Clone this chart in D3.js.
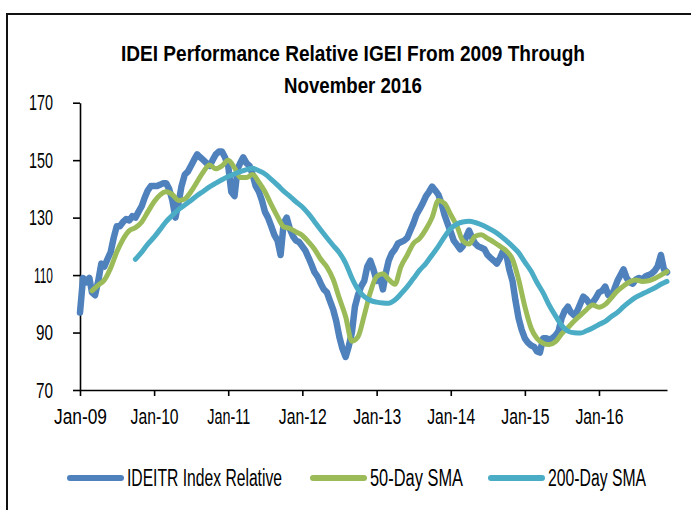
<!DOCTYPE html>
<html>
<head>
<meta charset="utf-8">
<script src="https://cdn.jsdelivr.net/npm/d3@7"></script>
<style>
  body { margin: 0; background: #fff; }
  svg text { font-family: "Liberation Sans", Arial, sans-serif; fill: #000; }
</style>
</head>
<body>
<svg id="chart"></svg>
<script>
// Title and legend text
const titleLines = ["IDEI Performance Relative IGEI From 2009 Through", "November 2016"];
const seriesNames = ["IDEITR Index Relative", "50-Day SMA", "200-Day SMA"];
const seriesColors = ["#4F81BD", "#9BBB59", "#4BACC6"];
const yTicks = [70, 90, 110, 130, 150, 170];

// IDEITR index relative, sampled on the 1st and 16th of each month from Jan 2009
const idxValues = [
  97, 109, 107.5, 109, 104, 103, 108, 114, 113, 115.5,
  118, 123, 127, 127, 128.5, 129.5, 129, 130.5, 130, 132,
  134, 137, 139.5, 141, 141, 141, 141.5, 142, 142, 140,
  136, 130, 135, 141, 145, 146, 148, 150, 152, 151,
  150, 149, 148, 150, 152, 153, 153, 151, 148, 139,
  137.5, 147, 149, 151, 149, 148, 145, 141, 139, 136,
  132, 130, 127, 124, 122, 117, 128, 130, 126, 123.5,
  122, 121.5, 120, 118.5, 116, 113.5, 111, 109.5, 107, 105,
  104, 101, 98, 94, 88.6, 84.5, 81.5, 85, 90, 99,
  103, 106, 108, 113, 115, 112, 108, 109.5, 105, 111,
  115, 117.5, 119, 121, 121.5, 122, 123, 125.5, 128, 131,
  133, 135, 137.5, 139, 140.8, 139.5, 138, 135, 131, 128,
  125, 122, 120.5, 119, 120, 123, 125.5, 123, 121, 120,
  119.5, 119, 117, 116, 115, 114, 116, 118.5, 117.5, 112,
  108, 101, 95, 91, 88, 86.5, 85.5, 85, 83.5, 83,
  88, 88, 87.5, 88, 89, 90.5, 95, 97.5, 99, 97,
  96, 97.5, 100, 102.5, 101.5, 100, 100.5, 102, 104, 104.5,
  106, 103, 102.5, 105, 108, 110, 112, 109, 107.5, 107,
  108.5, 109, 108.5, 109.5, 110, 110.5, 111.5, 113, 117, 112,
  111
];

// 50-day SMA, monthly from Mar 2009
const sma50Values = [
  104.5, 106.5, 108.3, 112.5, 118, 122.5, 125.5, 126.5, 128.5, 132,
  135.5, 138, 139, 138, 136, 136.5, 139, 142.5, 146, 148.3,
  147, 148, 150, 147.3, 144, 144, 145, 142.3, 139, 134.5,
  130.3, 126.8, 126.2, 125, 123.8, 121.5, 119, 115.5, 112.8, 108.5,
  102, 95.6, 87, 88.5, 96, 104, 109.5, 110.5, 108.5, 106.8,
  113, 117, 121, 122.8, 126, 130, 136, 135, 131, 127,
  122, 120.8, 123.5, 124, 122.8, 121.5, 120, 118.5, 115.5, 108.5,
  99, 91.5, 88, 86.3, 85.8, 86.8, 89.5, 91.7, 94, 96,
  98, 99.6, 98.8, 99.8, 102, 104.5, 106.2, 107.7, 108.3, 107.8,
  108, 108.8, 110, 111.2
];

// 200-day SMA, monthly from Oct 2009
const sma200Values = [
  115.5, 118, 120.8, 123.2, 126, 128.6, 130.8, 132.8, 134.4, 136,
  137.7, 139.2, 140.7, 142, 143.2, 144.3, 145.2, 146, 146.7, 147.2,
  146.3, 145.2, 143.3, 141.3, 139.2, 137.4, 135.5, 133.7, 131.3, 128.6,
  125.7, 123, 120.3, 117.8, 114.2, 109, 105, 102.5, 101.2, 100.6,
  100.3, 100.2, 101.3, 103.5, 106, 108.8, 111.7, 114.1, 117, 120,
  123.3, 126.2, 127.8, 128.5, 128.7, 128.3, 127.5, 126.5, 125.3, 123.8,
  122, 120, 117.8, 114.5, 111.3, 107.5, 103.8, 99.5, 95.8, 92.5,
  90.5, 89.9, 89.8, 90.6, 91.6, 92.8, 93.9, 95.5, 97, 99,
  100.8, 102.3, 103.4, 104.5, 105.5, 106.8, 107.8
];

const W = 691, H = 510;
const plot = { left: 80, right: 667, top: 102.7, bottom: 390 };

const svg = d3.select("#chart")
    .attr("width", W)
    .attr("height", H);

// chart frame (only top and left edges fall inside the picture)
svg.append("path")
    .attr("d", "M7," + H + "V14H" + W)
    .attr("fill", "none")
    .attr("stroke", "#111")
    .attr("stroke-width", 2);

const x = d3.scaleTime()
    .domain([new Date(2009, 0, 1), new Date(2016, 11, 1)])
    .range([plot.left, plot.right]);
const y = d3.scaleLinear()
    .domain([70, 170])
    .range([plot.bottom, plot.top]);

const idxData = idxValues.map((v, i) => ({ date: new Date(2009, Math.floor(i / 2), i % 2 ? 16 : 1), value: v }));
const sma50Data = sma50Values.map((v, i) => ({ date: new Date(2009, 2 + i, 1), value: v }));
const sma200Data = sma200Values.map((v, i) => ({ date: new Date(2009, 9 + i, 1), value: v }));

// the original font is very condensed, so squeeze glyphs to its widths
function narrowWidth(s, full, one) {
    return full - one * (s.split("1").length - 1);
}

// title
svg.selectAll(".title")
    .data(titleLines)
    .enter()
    .append("text")
    .attr("class", "title")
    .attr("x", 353)
    .attr("y", (d, i) => 61 + i * 32)
    .attr("text-anchor", "middle")
    .style("font-size", "22px")
    .style("font-weight", "bold")
    .attr("textLength", (d, i) => i === 0 ? 464 : 138)
    .attr("lengthAdjust", "spacingAndGlyphs")
    .text(d => d);

// axes
const yAxis = d3.axisLeft(y)
    .tickValues(yTicks)
    .tickSize(7)
    .tickSizeOuter(0)
    .tickPadding(20);
const xAxis = d3.axisBottom(x)
    .ticks(d3.timeYear.every(1))
    .tickFormat(d3.timeFormat("%b-%y"))
    .tickSize(6)
    .tickSizeOuter(0)
    .tickPadding(12);

const gy = svg.append("g")
    .attr("transform", "translate(" + plot.left + ",0)")
    .call(yAxis);
const gx = svg.append("g")
    .attr("transform", "translate(0," + plot.bottom + ")")
    .call(xAxis);

[gx, gy].forEach(g => {
    g.attr("font-size", null).attr("font-family", null);
    g.select(".domain").attr("stroke", "#000").attr("stroke-width", 1.6);
    g.selectAll(".tick line").attr("stroke", "#000").attr("stroke-width", 1.6);
    g.selectAll(".tick text")
        .attr("fill", "#000")
        .style("font-size", "22px")
        .attr("lengthAdjust", "spacingAndGlyphs");
});
gy.selectAll(".tick text")
    .attr("textLength", d => d < 100 ? 17 : narrowWidth(String(d), 29, 5));
gx.selectAll(".tick text")
    .attr("textLength", function() { return narrowWidth(this.textContent.slice(4), 53, 5); });

// lines
const line = d3.line()
    .x(d => x(d.date))
    .y(d => y(d.value));
const smooth = d3.line()
    .x(d => x(d.date))
    .y(d => y(d.value))
    .curve(d3.curveMonotoneX);

svg.append("path")
    .datum(idxData)
    .attr("d", line)
    .attr("fill", "none")
    .attr("stroke", seriesColors[0])
    .attr("stroke-width", 6.5)
    .attr("stroke-linejoin", "round")
    .attr("stroke-linecap", "round");

svg.append("path")
    .datum(sma50Data)
    .attr("d", smooth)
    .attr("fill", "none")
    .attr("stroke", seriesColors[1])
    .attr("stroke-width", 5)
    .attr("stroke-linejoin", "round")
    .attr("stroke-linecap", "round");

svg.append("path")
    .datum(sma200Data)
    .attr("d", smooth)
    .attr("fill", "none")
    .attr("stroke", seriesColors[2])
    .attr("stroke-width", 5)
    .attr("stroke-linejoin", "round")
    .attr("stroke-linecap", "round");

// legend
const legendX = [70, 313, 491];
const legendW = [155, 93, 98];
const legend = svg.selectAll(".legend")
    .data(seriesNames)
    .enter()
    .append("g")
    .attr("class", "legend")
    .attr("transform", (d, i) => "translate(" + legendX[i] + ",478)");

legend.append("line")
    .attr("x1", 0)
    .attr("x2", 51)
    .attr("stroke", (d, i) => seriesColors[i])
    .attr("stroke-width", 6)
    .attr("stroke-linecap", "round");

legend.append("text")
    .attr("x", 57)
    .attr("y", 8)
    .style("font-size", "23px")
    .attr("textLength", (d, i) => legendW[i])
    .attr("lengthAdjust", "spacingAndGlyphs")
    .text(d => d);
</script>
</body>
</html>
